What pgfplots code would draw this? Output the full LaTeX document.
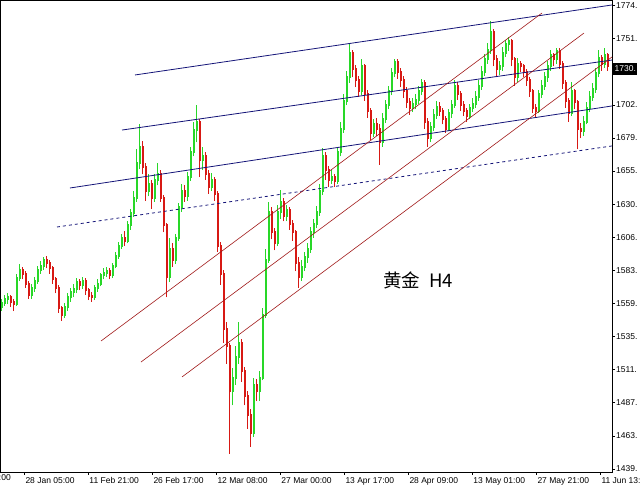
\documentclass[border=0pt]{standalone}
\usepackage{pgfplots}
\pgfplotsset{compat=1.18}
\usepackage{pgfplotstable}
\usepackage{fontspec}
\setmainfont{Liberation Sans}
\newfontfamily\cjk{Noto Sans CJK SC}
\definecolor{upc}{RGB}{40,215,40}
\definecolor{dnc}{RGB}{215,25,20}
\definecolor{chan}{RGB}{20,20,120}
\definecolor{trend}{RGB}{160,25,25}
\pgfplotstableread{
i o h l c
0 1556 1562 1553 1559
1 1559 1565 1557 1562
2 1562 1566 1558 1563
3 1563 1565 1556 1560
4 1560 1562 1553 1558
5 1558 1580 1557 1577
6 1577 1587 1575 1583
7 1583 1585 1576 1580
8 1580 1582 1570 1573
9 1573 1575 1562 1565
10 1565 1573 1562 1570
11 1570 1578 1567 1575
12 1575 1586 1573 1583
13 1583 1589 1580 1586
14 1586 1592 1583 1590
15 1590 1593 1584 1588
16 1588 1590 1580 1584
17 1584 1586 1573 1576
18 1576 1578 1566 1570
19 1570 1572 1552 1555
20 1555 1557 1546 1550
21 1550 1559 1548 1556
22 1556 1566 1553 1563
23 1563 1570 1560 1567
24 1567 1573 1563 1569
25 1569 1577 1566 1574
26 1574 1576 1568 1572
27 1572 1578 1569 1575
28 1575 1577 1565 1568
29 1568 1570 1561 1564
30 1564 1567 1560 1563
31 1563 1572 1561 1570
32 1570 1576 1567 1573
33 1573 1581 1571 1579
34 1579 1584 1576 1581
35 1581 1585 1578 1582
36 1582 1584 1576 1579
37 1579 1588 1577 1586
38 1586 1596 1584 1593
39 1593 1603 1591 1600
40 1600 1609 1598 1606
41 1606 1611 1600 1604
42 1604 1618 1602 1615
43 1615 1627 1612 1624
44 1624 1640 1621 1635
45 1635 1670 1632 1660
46 1660 1688 1656 1672
47 1672 1676 1652 1657
48 1657 1660 1633 1640
49 1640 1652 1636 1645
50 1645 1648 1627 1635
51 1635 1652 1632 1648
52 1648 1660 1644 1652
53 1652 1655 1632 1635
54 1635 1637 1610 1615
55 1615 1617 1563 1578
56 1578 1606 1574 1598
57 1598 1602 1585 1590
58 1590 1609 1587 1606
59 1606 1631 1604 1628
60 1628 1645 1625 1640
61 1640 1644 1632 1636
62 1636 1654 1633 1650
63 1650 1672 1647 1668
64 1668 1690 1665 1684
65 1684 1702 1675 1690
66 1690 1692 1650 1662
67 1662 1672 1655 1665
68 1665 1668 1648 1652
69 1652 1655 1638 1643
70 1643 1653 1640 1648
71 1648 1650 1633 1638
72 1638 1640 1596 1600
73 1600 1603 1572 1580
74 1580 1583 1530 1540
75 1540 1545 1515 1528
76 1528 1530 1450 1495
77 1495 1512 1485 1505
78 1505 1528 1500 1520
79 1520 1545 1515 1530
80 1530 1533 1502 1510
81 1510 1513 1485 1492
82 1492 1495 1468 1478
83 1478 1482 1455 1465
84 1465 1505 1462 1500
85 1500 1504 1488 1495
86 1495 1510 1488 1505
87 1505 1555 1503 1550
88 1550 1598 1548 1590
89 1590 1632 1588 1625
90 1625 1628 1605 1610
91 1610 1613 1597 1602
92 1602 1630 1600 1625
93 1625 1641 1620 1632
94 1632 1635 1618 1622
95 1622 1630 1618 1626
96 1626 1628 1612 1616
97 1616 1619 1604 1610
98 1610 1612 1582 1588
99 1588 1592 1570 1578
100 1578 1590 1575 1585
101 1585 1596 1582 1592
102 1592 1602 1588 1598
103 1598 1614 1595 1610
104 1610 1620 1606 1616
105 1616 1629 1613 1625
106 1625 1645 1622 1640
107 1640 1671 1637 1665
108 1665 1668 1648 1655
109 1655 1658 1643 1648
110 1648 1655 1645 1650
111 1650 1652 1643 1647
112 1647 1672 1645 1668
113 1668 1690 1665 1685
114 1685 1710 1682 1705
115 1705 1727 1702 1722
116 1722 1746 1718 1740
117 1740 1742 1722 1728
118 1728 1731 1715 1720
119 1720 1723 1708 1712
120 1712 1735 1709 1730
121 1730 1732 1705 1710
122 1710 1713 1693 1698
123 1698 1700 1677 1682
124 1682 1692 1679 1688
125 1688 1693 1680 1685
126 1685 1688 1659 1675
127 1675 1696 1672 1692
128 1692 1706 1689 1702
129 1702 1716 1699 1712
130 1712 1729 1709 1725
131 1725 1735 1722 1733
132 1733 1735 1721 1726
133 1726 1729 1715 1720
134 1720 1723 1707 1712
135 1712 1715 1700 1704
136 1704 1707 1695 1700
137 1700 1707 1697 1703
138 1703 1710 1699 1706
139 1706 1716 1703 1712
140 1712 1721 1709 1718
141 1718 1720 1685 1690
142 1690 1693 1672 1678
143 1678 1690 1675 1686
144 1686 1699 1683 1695
145 1695 1705 1692 1701
146 1701 1704 1694 1698
147 1698 1700 1688 1692
148 1692 1694 1682 1685
149 1685 1699 1683 1696
150 1696 1706 1693 1702
151 1702 1720 1700 1716
152 1716 1719 1706 1710
153 1710 1712 1698 1702
154 1702 1705 1694 1698
155 1698 1700 1690 1694
156 1694 1703 1692 1700
157 1700 1707 1697 1703
158 1703 1712 1700 1708
159 1708 1720 1705 1716
160 1716 1730 1713 1726
161 1726 1739 1723 1735
162 1735 1747 1732 1742
163 1742 1763 1739 1755
164 1755 1757 1730 1735
165 1735 1738 1722 1728
166 1728 1734 1724 1730
167 1730 1744 1727 1740
168 1740 1749 1737 1746
169 1746 1751 1741 1748
170 1748 1750 1730 1735
171 1735 1737 1716 1722
172 1722 1736 1719 1732
173 1732 1734 1726 1730
174 1730 1732 1722 1726
175 1726 1728 1716 1720
176 1720 1722 1708 1712
177 1712 1714 1696 1700
178 1700 1703 1693 1698
179 1698 1713 1696 1710
180 1710 1720 1707 1716
181 1716 1726 1713 1722
182 1722 1734 1719 1730
183 1730 1742 1727 1738
184 1738 1740 1730 1735
185 1735 1743 1732 1741
186 1741 1743 1728 1732
187 1732 1734 1714 1718
188 1718 1720 1700 1705
189 1705 1707 1690 1696
190 1696 1719 1694 1712
191 1712 1714 1699 1704
192 1704 1706 1670 1685
193 1685 1689 1678 1683
194 1683 1694 1680 1690
195 1690 1704 1688 1700
196 1700 1712 1697 1708
197 1708 1718 1705 1714
198 1714 1729 1711 1725
199 1725 1742 1722 1736
200 1736 1738 1727 1732
201 1732 1743 1729 1738
202 1738 1740 1727 1730
}\candles
\pgfplotstablecreatecol[create col/expr={\thisrow{c}>=\thisrow{o}}]{up}\candles
\begin{document}
\begin{tikzpicture}[x=1pt,y=1pt]
\begin{axis}[
  at={(0pt,17pt)}, anchor=south west,
  scale only axis, width=612pt, height=472pt,
  xmin=-0.5, xmax=203.5, ymin=1436.8, ymax=1778.0,
  clip mode=individual,
  axis line style={black, line width=0.9pt},
  tick align=outside, major tick length=3pt,
  tick style={black, line width=0.6pt},
  xtick pos=bottom, ytick pos=right,
  yticklabel pos=right,
  xtick={7.6,28.93,50.27,71.6,92.93,114.27,135.6,156.93,178.27,199.6},
  xticklabels={{28 Jan 05:00},{11 Feb 21:00},{26 Feb 17:00},{12 Mar 08:00},{27 Mar 00:00},{13 Apr 17:00},{28 Apr 09:00},{13 May 01:00},{27 May 21:00},{11 Jun 13:00}},
  xticklabel style={anchor=north west, inner sep=1pt, font=\fontsize{8.5}{10}\selectfont, yshift=-1pt},
  ytick={1439.0,1462.9,1486.9,1510.8,1534.7,1558.7,1582.6,1606.5,1630.4,1654.4,1678.3,1702.2,1726.2,1750.1,1774.0},
  yticklabels={1439.,1463.,1487.,1511.,1535.,1559.,1583.,1606.,1630.,1655.,1679.,1702.,{},1751.,1774.},
  yticklabel style={anchor=west, inner sep=1pt, font=\fontsize{8.5}{10}\selectfont},
  colormap={rg}{color=(dnc) color=(upc)},
  point meta min=0, point meta max=1,
]
% wicks
\addplot[-, line width=0.7pt, no marks,
  point meta=explicit,
  quiver={u=0, v=\thisrow{h}-\thisrow{l}, colored=mapped color}]
  table[x=i, y=l, meta=up] {\candles};
% bodies
\addplot[-, line width=2pt, line cap=rect, no marks,
  point meta=explicit,
  quiver={u=0, v=\thisrow{c}-\thisrow{o}, colored=mapped color}]
  table[x=i, y=o, meta=up] {\candles};
% blue channel
\addplot[chan, line width=0.8pt] coordinates {(44.5,1723.8) (203.5,1774.4)};
\addplot[chan, line width=0.8pt] coordinates {(40.17,1684.0) (203.5,1734.6)};
\addplot[chan, line width=0.8pt] coordinates {(22.83,1642.1) (203.5,1701.4)};
\addplot[chan, line width=0.8pt, dash pattern=on 3pt off 3pt] coordinates {(18.5,1613.9) (203.5,1672.5)};
% red trend lines
\addplot[trend, line width=0.6pt] coordinates {(33.17,1531.5) (180.17,1768.6)};
\addplot[trend, line width=0.6pt] coordinates {(46.5,1516.3) (194.17,1754.1)};
\addplot[trend, line width=0.6pt] coordinates {(60.17,1505.5) (203.5,1736.8)};
\node[anchor=west, inner sep=0pt, font=\cjk\fontsize{18.5}{22}\selectfont] at (axis cs:127.2,1575.6) {黄金\hspace{9pt}H4};
\node[anchor=west, fill=black, text=white, inner sep=1pt, minimum height=12pt, font=\fontsize{8.5}{10}\selectfont] at (axis cs:203.5,1728.3) {\hspace{1.5pt}1730.};
\end{axis}
\node[anchor=north east, inner sep=1pt, font=\fontsize{8.5}{10}\selectfont] at (12pt,16pt) {:00};
\pgfresetboundingbox
\useasboundingbox (0,0) rectangle (640,489);
\end{tikzpicture}
\end{document}
